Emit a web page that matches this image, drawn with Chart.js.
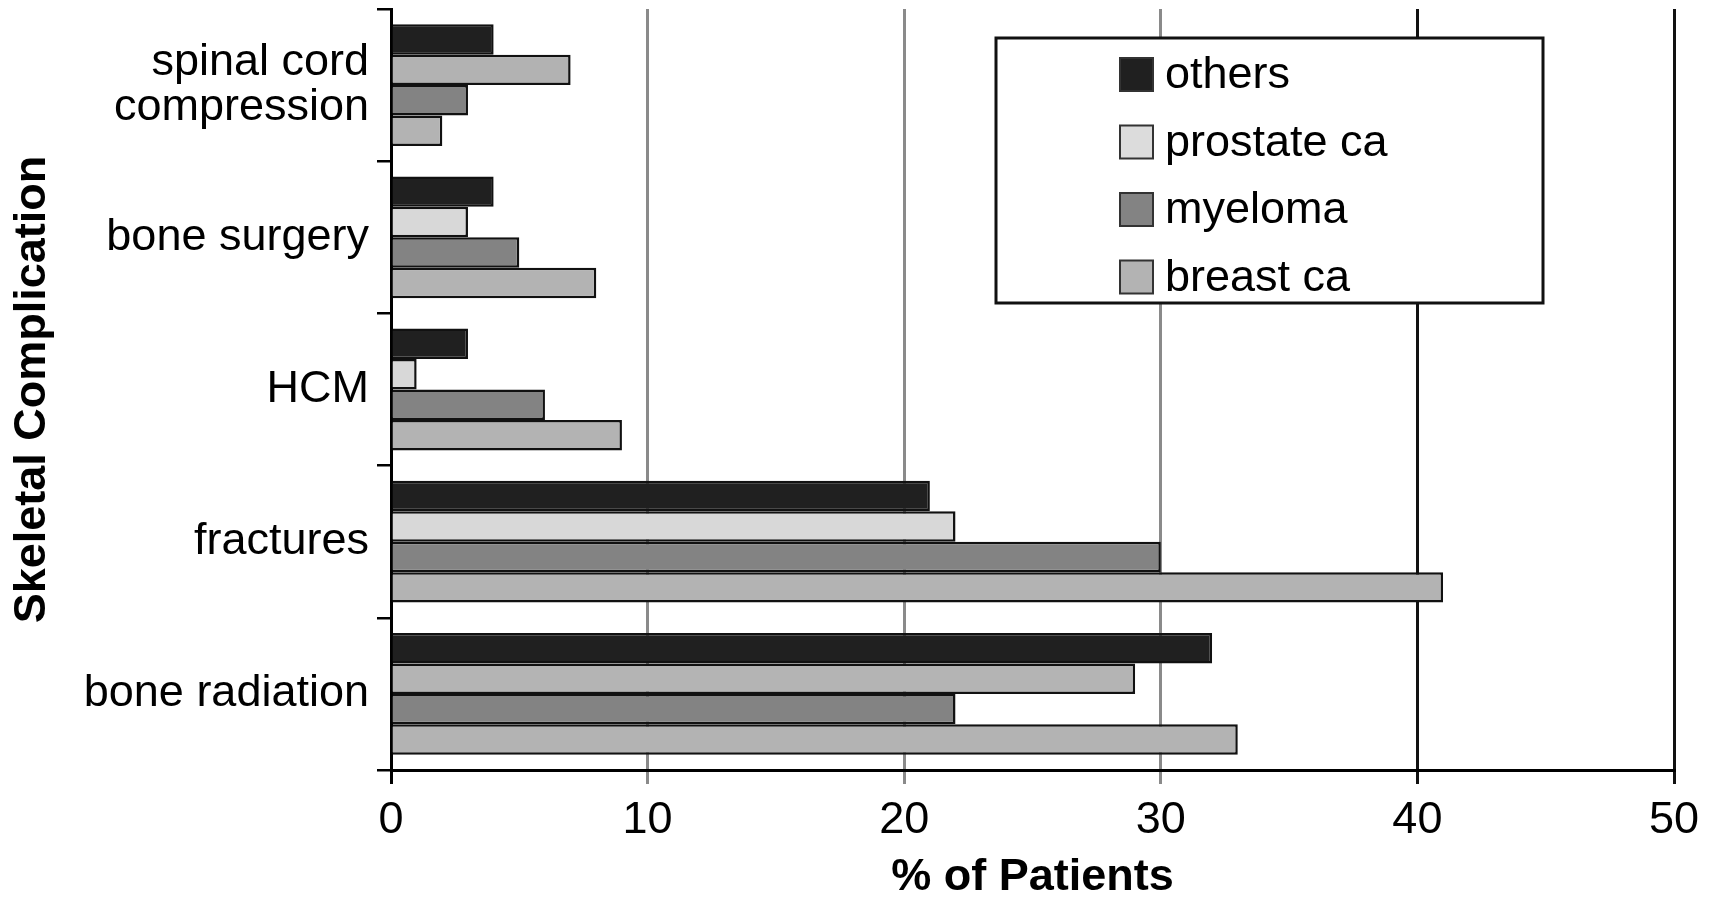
<!DOCTYPE html>
<html>
<head>
<meta charset="utf-8">
<script src="https://cdn.jsdelivr.net/npm/chart.js@4"></script>
<style>
  html, body { margin: 0; padding: 0; background: #fff; }
  #wrap { width: 1713px; height: 900px; }
</style>
</head>
<body>
<div id="wrap"><canvas id="chart"></canvas></div>
<script>
// Data (% of patients)
const categories = [['spinal cord', 'compression'], 'bone surgery', 'HCM', 'fractures', 'bone radiation'];
const seriesNames = ['others', 'prostate ca', 'myeloma', 'breast ca'];
const others = [4, 4, 3, 21, 32];
const prostate = [7, 3, 1, 22, 29];
const myeloma = [3, 5, 6, 30, 22];
const breast = [2, 8, 9, 41, 33];
const xTicks = [0, 10, 20, 30, 40, 50];

// greys from the scan (prostate bars print darker in two groups)
const colOthers = '#202020';
const colProstate = ['#b2b2b2', '#d8d8d8', '#d8d8d8', '#d8d8d8', '#b4b4b4'];
const colMyeloma = '#838383';
const colBreast = '#b3b3b3';
const legendColors = [colOthers, '#dcdcdc', colMyeloma, colBreast];

const FONT = '"Liberation Sans", Arial, sans-serif';

// legend drawn inside the plot, on a white box
const boxLegend = {
    id: 'boxLegend',
    afterDraw(chart) {
        const ctx = chart.ctx;
        ctx.save();
        ctx.fillStyle = '#fff';
        ctx.fillRect(996, 38, 547, 265);
        ctx.lineWidth = 3;
        ctx.strokeStyle = '#111';
        ctx.strokeRect(996, 38, 547, 265);
        ctx.font = '45px ' + FONT;
        ctx.textBaseline = 'middle';
        ctx.textAlign = 'left';
        chart.data.datasets.forEach((ds, i) => {
            const cy = 74 + i * 67.5;
            ctx.fillStyle = legendColors[i];
            ctx.fillRect(1120, cy - 16, 33, 33);
            ctx.lineWidth = 2;
            ctx.strokeStyle = '#333';
            ctx.strokeRect(1120, cy - 16, 33, 33);
            ctx.fillStyle = '#000';
            ctx.fillText(ds.label, 1165, cy + 2);
        });
        ctx.restore();
    }
};

function gridColor(ctx) {
    const v = ctx.tick ? ctx.tick.value : 0;
    if (v === 0) return '#000';
    return v >= 40 ? '#111' : '#8a8a8a';
}

const ctx = document.getElementById('chart').getContext('2d');
new Chart(ctx, {
    type: 'bar',
    data: {
        labels: categories,
        datasets: [
            { label: seriesNames[0], data: others, backgroundColor: colOthers },
            { label: seriesNames[1], data: prostate, backgroundColor: colProstate },
            { label: seriesNames[2], data: myeloma, backgroundColor: colMyeloma },
            { label: seriesNames[3], data: breast, backgroundColor: colBreast }
        ]
    },
    options: {
        indexAxis: 'y',
        responsive: true,
        maintainAspectRatio: false,
        animation: false,
        layout: { padding: { top: 9, right: 39, bottom: 0, left: 0 } },
        datasets: {
            bar: {
                borderColor: '#111',
                borderWidth: 2.5,
                categoryPercentage: 0.8,
                barPercentage: 1.0
            }
        },
        scales: {
            x: {
                min: 0,
                max: 50,
                afterBuildTicks: scale => { scale.ticks = xTicks.map(v => ({ value: v })); },
                afterFit: scale => { scale.height = 130; },
                border: { color: '#000', width: 3 },
                grid: {
                    color: gridColor,
                    lineWidth: 3,
                    tickLength: 14,
                    drawTicks: true
                },
                ticks: {
                    color: '#000',
                    padding: 10,
                    font: { family: FONT, size: 45 }
                },
                title: {
                    display: true,
                    text: '% of Patients',
                    color: '#000',
                    padding: 0,
                    font: { family: FONT, size: 45, weight: 'bold', lineHeight: 1 }
                }
            },
            y: {
                afterFit: scale => {
                    scale.width = 391;
                    scale.paddingTop = 0;
                    scale.paddingBottom = 0;
                },
                border: { color: '#000', width: 3 },
                grid: {
                    drawOnChartArea: false,
                    offset: true,
                    color: '#000',
                    lineWidth: 2.5,
                    tickLength: 14
                },
                ticks: {
                    color: '#000',
                    padding: 8,
                    font: { family: FONT, size: 45, lineHeight: 0.98 }
                },
                title: {
                    display: true,
                    text: 'Skeletal Complication',
                    color: '#000',
                    padding: { top: 6, bottom: 0 },
                    font: { family: FONT, size: 45, weight: 'bold', lineHeight: 1.2 }
                }
            }
        },
        plugins: {
            legend: { display: false },
            tooltip: { enabled: false }
        }
    },
    plugins: [boxLegend]
});
</script>
</body>
</html>
